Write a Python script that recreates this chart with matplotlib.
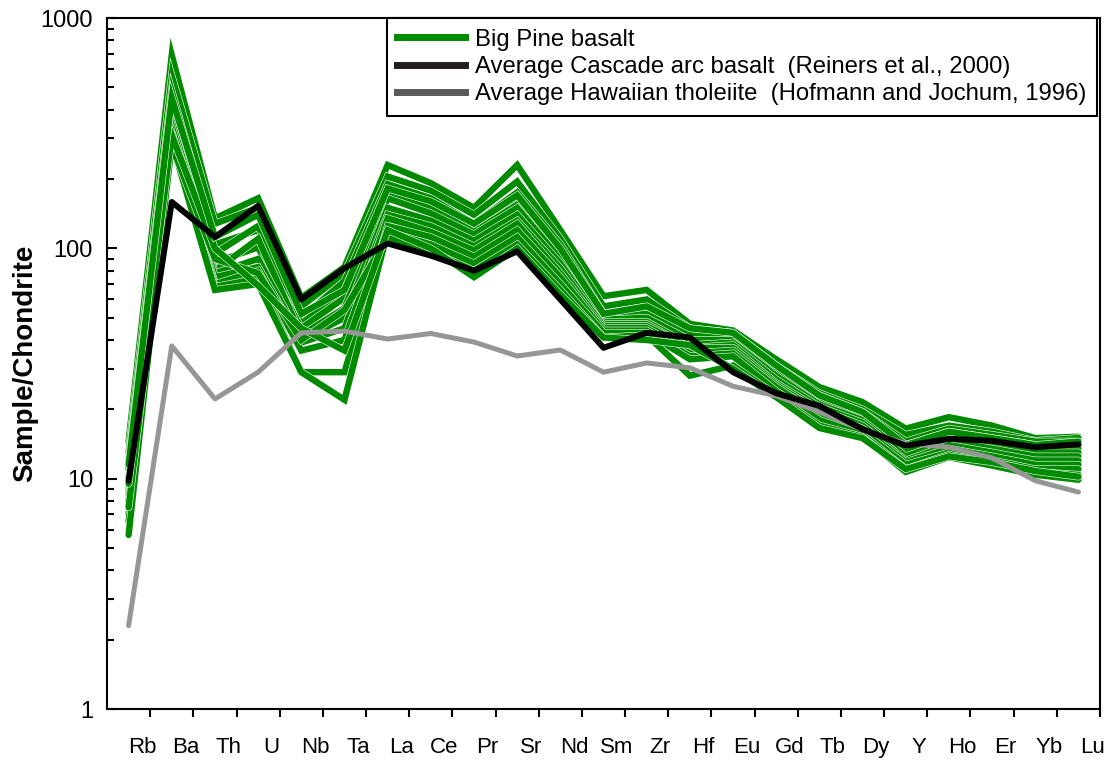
import matplotlib
matplotlib.use("Agg")
import matplotlib.pyplot as plt
import matplotlib.patheffects as pe
from matplotlib.lines import Line2D
from matplotlib.transforms import ScaledTranslation
import numpy as np

plt.rcParams["font.family"] = ["Liberation Sans", "DejaVu Sans"]

ELEMENTS = ["Rb", "Ba", "Th", "U", "Nb", "Ta", "La", "Ce", "Pr", "Sr", "Nd", "Sm",
            "Zr", "Hf", "Eu", "Gd", "Tb", "Dy", "Y", "Ho", "Er", "Yb", "Lu"]

# chondrite-normalised Big Pine samples
big_pine = [
    [14.5, 690, 135, 165, 61, 83, 230, 192, 150, 230, 120, 62, 66, 47, 44, 33, 25, 21.5, 16.5, 18.5, 17, 15, 15.2],
    [13, 560, 128, 150, 56, 78, 205, 178, 140, 195, 110, 56, 60, 45, 43, 31, 23.5, 20, 15.5, 17, 16, 14.6, 15],
    [12, 480, 104, 120, 50, 72, 190, 165, 128, 175, 104, 52, 55, 44, 42, 30, 23, 19.5, 14.5, 16.5, 15.5, 14.5, 14.5],
    [11, 430, 95, 125, 47, 66, 178, 155, 122, 160, 98, 50, 52, 42, 41, 30, 22, 19, 14, 16, 15, 14, 14],
    [10, 400, 87, 101, 45, 61, 170, 150, 118, 155, 94, 49, 50, 40, 40, 29, 21.5, 18.5, 13.5, 15.5, 14.5, 13.5, 13.5],
    [9, 380, 80, 110, 42, 55, 165, 142, 115, 150, 90, 48, 48, 38, 39, 28, 21, 18, 13, 15, 14, 13, 13],
    [8.5, 360, 78, 90, 40, 50, 150, 132, 108, 140, 86, 47, 47, 37, 38, 27, 20.5, 17.5, 12.5, 14.5, 13.5, 12.5, 12.5],
    [8, 340, 75, 83, 39, 45, 140, 125, 102, 132, 82, 46, 46, 37, 37, 26, 20, 17, 12, 14, 13, 12, 12],
    [7, 320, 70, 80, 36, 40, 135, 118, 98, 128, 78, 45, 45, 35, 36, 25.5, 19.5, 16.5, 11.8, 13.5, 12.5, 11.5, 11.5],
    [6.5, 300, 68, 74, 29, 29, 125, 112, 92, 120, 75, 44, 44, 34, 35, 25, 19, 16, 11.5, 13, 12, 11, 11],
    [5.7, 290, 66, 70, 29, 22, 118, 104, 86, 112, 70, 43, 43, 33, 34, 24, 18, 15.5, 11, 12.7, 11.8, 10.7, 10.4],
    [7.5, 280, 90, 78, 40, 54, 112, 97, 80, 104, 66, 41, 42, 28, 31, 23, 17, 15.2, 10.7, 12.4, 11.4, 10.4, 9.9],
    [9.5, 310, 100, 69, 45, 36, 120, 100, 75, 100, 63, 41, 40, 38, 30, 22.6, 16.6, 15, 11, 12.5, 11.8, 10.8, 10.2],
    [11.5, 450, 112, 140, 52, 66, 182, 160, 128, 170, 100, 52, 56, 45, 43, 31, 23, 19.5, 14, 16, 15, 14, 14.5],
]

# Reiners et al. (2000) average Cascade arc basalt
cascade = [9.8, 159, 112, 153, 60, 82, 105, 93, 80, 97, 60, 37, 43, 41, 29, 23.5,
           20.7, 16.4, 13.9, 14.9, 14.6, 13.7, 14.1]

# Hofmann and Jochum (1996) average Hawaiian tholeiite
hawaii = [2.3, 37.7, 22.2, 29, 43, 43.7, 40.4, 42.7, 39.2, 34.1, 36.2, 29, 31.8, 30.3,
          25.2, 22.9, 19.5, 16.3, 14.2, 13.7, 12.3, 9.8, 8.75]

GREEN = "#008a00"
x = np.arange(len(ELEMENTS))

fig = plt.figure(figsize=(11.17, 7.61), dpi=100)
ax = fig.add_axes([0.0958, 0.0683, 0.8890, 0.9080])

# thin white rim around each sample line
outline = [pe.Stroke(linewidth=5.4, foreground="white"), pe.Normal()]
for s in big_pine:
    ax.plot(x, s, color=GREEN, lw=4.6, solid_joinstyle="miter",
            solid_capstyle="round", path_effects=outline, zorder=2)
ax.plot(x, hawaii, color="#969696", lw=3.6, solid_capstyle="round", zorder=3)
ax.plot(x, cascade, color="black", lw=4.3, solid_capstyle="round", zorder=4)

ax.set_yscale("log")
ax.set_ylim(1, 1000)
ax.set_xlim(-0.5, len(ELEMENTS) - 0.5)
ax.set_yticks([1, 10, 100, 1000])
ax.set_yticklabels(["1", "10", "100", "1000"])
ax.tick_params(axis="y", which="major", direction="in", length=7, width=1.5,
               labelsize=17, pad=10, right=False)
ax.tick_params(axis="y", which="minor", direction="in", length=5, width=1.5, right=False)

ax.set_xticks(x + 0.5)
ax.set_xticklabels(ELEMENTS)
ax.tick_params(axis="x", direction="out", length=6, width=1.5, labelsize=16, pad=14,
               top=False)
shift = ScaledTranslation(-8 / 100, 0, fig.dpi_scale_trans)
for lab in ax.get_xticklabels():
    lab.set_transform(lab.get_transform() + shift)

for sp in ax.spines.values():
    sp.set_linewidth(1.5)

ax.set_ylabel("Sample/Chondrite", fontsize=20, fontweight="bold", labelpad=2)

handles = [
    Line2D([], [], color=GREEN, lw=5),
    Line2D([], [], color="#231f20", lw=5),
    Line2D([], [], color="#595959", lw=5),
]
labels = [
    "Big Pine basalt",
    "Average Cascade arc basalt  (Reiners et al., 2000)",
    "Average Hawaiian tholeiite  (Hofmann and Jochum, 1996)",
]
leg = ax.legend(handles, labels, loc="upper right", bbox_to_anchor=(0.997, 1.0),
                borderaxespad=0, fontsize=17.2, frameon=True, fancybox=False,
                framealpha=1, edgecolor="black", handlelength=2.85,
                handletextpad=0.4, labelspacing=0.22, borderpad=0.45)
leg.get_frame().set_linewidth(1.5)

fig.savefig("out.png", dpi=100)
